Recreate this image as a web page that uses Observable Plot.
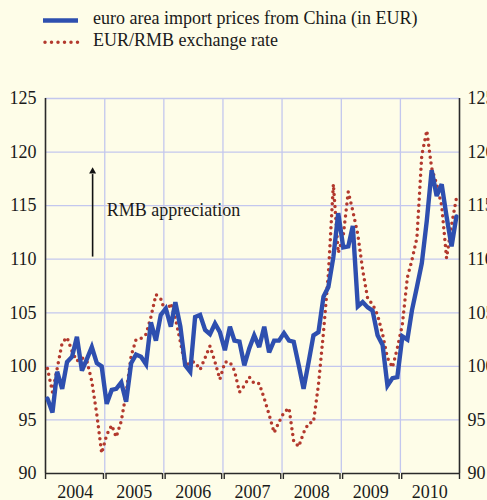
<!DOCTYPE html>
<html>
<head>
<meta charset="utf-8">
<script src="https://cdn.jsdelivr.net/npm/d3@7"></script>
<script src="https://cdn.jsdelivr.net/npm/@observablehq/plot@0.6"></script>
<style>
  html, body { margin: 0; padding: 0; background: #fefde8; }
  body { width: 487px; height: 500px; overflow: hidden; font-family: "Liberation Serif", "Times New Roman", serif; color: #1a1a1a; }
  #legend { position: relative; height: 60px; font-size: 18px; }
  .row { position: absolute; left: 0; }
  .row svg { position: absolute; left: 40px; top: 0; }
  .row span { position: absolute; left: 93px; white-space: nowrap; }
</style>
</head>
<body>
<div id="legend"></div>
<div id="chart"></div>
<script>
// ---- data ----
const seriesNames = ["euro area import prices from China (in EUR)", "EUR/RMB exchange rate"];
const startYear = 2004;
const yearLabels = ["2004", "2005", "2006", "2007", "2008", "2009", "2010"];
const yTicks = [90, 95, 100, 105, 110, 115, 120, 125];
// monthly, Jan 2004 .. Dec 2010
const importPrices = [
  97.0, 95.7, 99.5, 97.9, 100.4, 100.9, 102.75, 99.6, 100.7, 101.8, 100.3, 100.0,
  96.5, 97.8, 97.9, 98.5, 96.7, 100.3, 101.1, 100.9, 100.2, 104.1, 102.4, 104.8,
  105.4, 103.7, 106.0, 103.7, 100.1, 99.5, 104.6, 104.8, 103.4, 103.0, 104.0, 103.2,
  101.5, 103.7, 102.4, 102.3, 100.1, 101.7, 102.9, 101.8, 103.7, 101.3, 102.4, 102.4,
  103.1, 102.4, 102.3, 100.1, 97.9, 100.4, 102.9, 103.2, 106.5, 107.4, 110.2, 114.3,
  111.1, 111.2, 113.1, 105.6, 106.0, 105.5, 105.2, 102.9, 102.0, 98.2, 98.9, 99.0,
  102.8, 102.5, 105.2, 107.4, 109.6, 113.6, 118.3, 115.9, 117.0, 114.0, 111.2, 114.0
];
const exchangeRate = [
  99.8, 97.6, 99.8, 102.2, 102.7, 101.4, 100.5, 100.8, 100.5, 98.6, 95.5, 91.9,
  93.6, 94.5, 93.4, 94.9, 97.5, 101.0, 102.5, 102.6, 103.0, 104.6, 106.7, 106.3,
  104.9, 105.9, 104.5, 102.3, 100.0, 100.4, 100.4, 99.7, 100.8, 101.9, 100.4, 98.8,
  100.4, 100.4, 99.6, 97.6, 98.2, 99.0, 98.4, 98.4, 97.0, 95.5, 93.8, 94.8,
  95.7, 96.1, 93.0, 92.5, 93.8, 94.7, 94.8, 98.3, 103.2, 108.6, 117.0, 110.6,
  112.2, 116.3, 114.5, 112.3, 109.0, 106.3, 105.8, 104.8, 103.0, 100.8, 99.9, 101.7,
  103.9, 108.3, 109.9, 112.0, 119.7, 122.0, 118.5, 117.0, 115.0, 110.1, 113.2, 115.7
];
const annotationText = "RMB appreciation";

// ---- styles ----
const blue = "#2e4faf";
const red = "#b3392d";
const gridColor = "#c3c7ee";
const axisColor = "#2a2a2a";
const font = "\"Liberation Serif\", \"Times New Roman\", serif";

// ---- derived tables ----
const day = 24 * 3600 * 1000;
const rows = importPrices.map((v, i) => ({
  date: new Date(Date.UTC(startYear, i, 13)),
  imp: v,
  fx: exchangeRate[i]
}));
const years = yearLabels.map((label, k) => {
  const y = startYear + k;
  const s = new Date(Date.UTC(y, 0, 1));
  const e = new Date(Date.UTC(y + 1, 0, 1));
  return {
    label,
    start: s,
    end: e,
    mid: new Date(Date.UTC(y, 6, 2)),
    x1: k === 0 ? s : new Date(+s + 8 * day),
    x2: k === yearLabels.length - 1 ? e : new Date(+e - 8 * day)
  };
});
const bracketTicks = years.flatMap(d => [d.x1, d.x2]);
const innerBounds = years.slice(1).map(d => d.start);
const xDomain = [years[0].start, years[years.length - 1].end];

// ---- legend ----
const legend = document.getElementById("legend");
legend.innerHTML = `
  <div class="row" style="top:0">
    <svg width="45" height="40"><line x1="3" x2="38" y1="20.5" y2="20.5" stroke="${blue}" stroke-width="4.4"/></svg>
    <span style="top:8px">${seriesNames[0]}</span>
  </div>
  <div class="row" style="top:22px">
    <svg width="45" height="40"><line x1="5" x2="38" y1="20.3" y2="20.3" stroke="${red}" stroke-width="3.5" stroke-linecap="round" stroke-dasharray="0 6.5"/></svg>
    <span style="top:8px">${seriesNames[1]}</span>
  </div>`;

// ---- chart ----
const arrowDate = new Date(Date.UTC(2004, 9, 18));
const textDate = new Date(Date.UTC(2005, 0, 13));

const chart = Plot.plot({
  width: 487,
  height: 440,
  marginTop: 38,
  marginBottom: 27,
  marginLeft: 45,
  marginRight: 28,
  style: { background: "transparent", fontFamily: font, fontSize: "18px", color: "#1a1a1a", overflow: "visible" },
  x: { type: "utc", domain: xDomain, axis: null },
  y: { domain: [90, 125], axis: null },
  marks: [
    Plot.ruleY(yTicks.filter(v => v > 90), { stroke: gridColor, strokeWidth: 1.3 }),
    Plot.ruleX(innerBounds, { stroke: gridColor, strokeWidth: 1.3 }),
    Plot.axisY({ anchor: "left", ticks: yTicks, tickSize: 0, tickPadding: 9, tickFormat: d => String(d), fontSize: 18 }),
    Plot.axisY({ anchor: "right", ticks: yTicks, tickSize: 0, tickPadding: 8, tickFormat: d => String(d), fontSize: 18 }),
    Plot.ruleX(xDomain, { stroke: axisColor, strokeWidth: 1.6 }),
    Plot.ruleY(years, { y: () => 90, x1: "x1", x2: "x2", stroke: axisColor, strokeWidth: 1.4 }),
    Plot.ruleX(bracketTicks, { y1: 90, y2: 89.44, stroke: axisColor, strokeWidth: 1.4 }),
    Plot.text(years, { x: "mid", y: () => 90, text: "label", dy: 19, fontSize: 18, fill: "#1a1a1a" }),
    Plot.line(rows, { x: "date", y: "fx", stroke: red, strokeWidth: 3.5, strokeDasharray: "0 6", strokeLinecap: "round" }),
    Plot.line(rows, { x: "date", y: "imp", stroke: blue, strokeWidth: 4.4, strokeLinejoin: "miter", strokeMiterlimit: 3 }),
    Plot.ruleX([arrowDate], { y1: 110.2, y2: 117.9, stroke: "#111", strokeWidth: 1.6 }),
    Plot.dot([arrowDate], { x: d => d, y: () => 118.2, symbol: "triangle", r: 2.6, fill: "#111", stroke: null }),
    Plot.text([annotationText], { x: () => textDate, y: () => 114.6, text: d => d, textAnchor: "start", fontSize: 18, fill: "#1a1a1a" })
  ]
});
document.getElementById("chart").appendChild(chart);
</script>
</body>
</html>
